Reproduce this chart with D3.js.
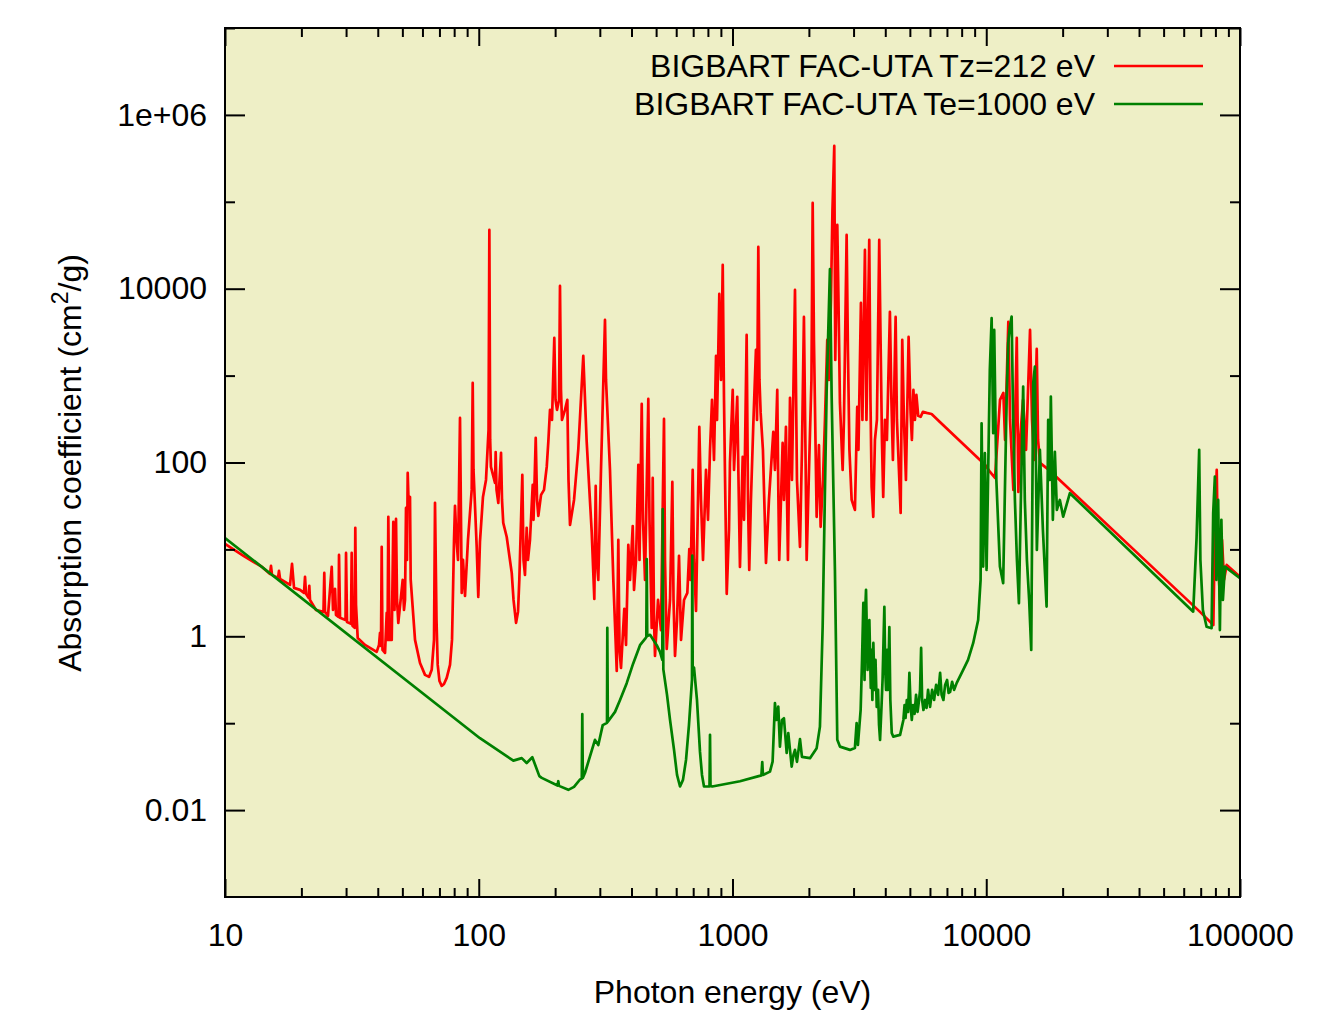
<!DOCTYPE html>
<html>
<head>
<meta charset="utf-8">
<script src="https://cdn.jsdelivr.net/npm/d3@7"></script>
<style>
  body { margin: 0; background: #ffffff; }
  svg { display: block; font-family: "Liberation Sans", Arial, sans-serif; }
  .tick text { font-size: 32px; fill: #000; }
</style>
</head>
<body>
<svg id="chart" width="1338" height="1027"></svg>
<script>
// absorption spectrum, Tz=212 eV (red)
const redEnergy = [10, 12.0, 14.0, 15.04, 15.18, 15.32, 16.18, 16.32, 16.48, 18.04, 18.37, 18.71, 19.75, 20.48, 20.67, 20.86,
  21.34, 21.49, 21.63, 22.84, 24.44, 24.62, 24.78, 25.46, 26.34, 26.65, 27.14, 27.38, 28.01, 28.14, 28.40, 29.85, 29.99,
  30.26, 31.37, 31.57, 31.80, 32.44, 32.62, 32.83, 33.34, 35.62, 39.61, 40.45, 40.82, 41.19, 41.45, 41.76, 42.72, 43.38,
  43.70, 44.02, 44.50, 45.40, 46.06, 46.56, 47.20, 47.63, 48.19, 50.15, 50.75, 51.22, 51.68, 52.15, 52.48, 52.87, 53.59,
  53.93, 56.09, 58.69, 61.41, 63.68, 65.26, 66.64, 67.24, 68.16, 68.9, 70.03, 71.45, 72.95, 74.77, 77.04, 78.45, 79.2, 79.9, 80.61, 81.72, 82.84, 84.36,
  85.68, 86.69, 88.28, 90.70, 93.80, 94.66, 95.35, 98.15, 99.59, 101.1, 103.9, 106.8, 109.3, 110.1, 110.9, 111.7, 115.9,
  116.6, 117.5, 119.4, 122.4, 123.5, 124.9, 128.9, 134.9, 137.1, 140.3, 142.8, 144.5, 148.5, 150.1, 152.1, 154.5, 156.3, 159.2, 163.2,
  164.4, 167.7, 169.7, 171.7, 176.0, 180.8, 185.3, 188.0, 190.9, 194.4, 198.5, 200.7, 203.4, 207.2, 209.0, 210.9, 212.8,
  218.7, 223.4, 225.8, 228.9, 237.4, 246.8, 258.2, 266.3, 278.7, 285.4, 289.0, 291.6, 295.9, 303.2, 314.4, 317.3, 329.0,
  339.1, 349.8, 354.8, 358.7, 363.6, 374.6, 380.5, 388.5, 394.6, 404.4, 409.2, 416.7, 425.5, 430.1, 438.8, 444.0, 452.1,
  465.8, 470.9, 480.4, 484.8, 490.6, 495.0, 508.7, 522.6, 537.1, 542.0, 550.5, 567.3, 579.3, 585.6, 593.6, 604.5, 615.5,
  626.8, 644.1, 663.7, 675.8, 683.3, 696.9, 705.2, 718.1, 739.9, 751.4, 765.2, 786.3, 800.7, 815.4, 830.3, 845.5, 861.1,
  869.0, 887.2, 901.1, 915.1, 925.9, 934.4, 948.9, 968.9, 977.2, 1002, 1014, 1044, 1056, 1070, 1097, 1110, 1137, 1151,
  1164, 1182, 1207, 1237, 1249, 1264, 1277, 1291, 1318, 1355, 1392, 1448, 1470, 1501, 1517, 1528, 1576, 1595, 1624, 1654,
  1685, 1715, 1763, 1795, 1845, 1878, 1912, 1939, 1960, 2020, 2047, 2070, 2094, 2146, 2191, 2225, 2273, 2314, 2363, 2399,
  2443, 2477, 2518, 2541, 2588, 2616, 2651, 2717, 2749, 2817, 2850, 2889, 2948, 3037, 3101, 3136, 3207, 3251, 3326, 3372,
  3459, 3497, 3535, 3587, 3642, 3708, 3787, 3828, 3881, 3926, 3987, 4060, 4172, 4229, 4287, 4394, 4446, 4528, 4599, 4666,
  4738, 4825, 4943, 5034, 5093, 5163, 5234, 5305, 5393, 5512, 5627, 5820, 6090, 6567, 9725, 9980, 10350, 10830, 11330,
  11680, 11860, 12220, 12410, 12790, 12990, 13190, 13380, 13590, 13960, 14350, 14880, 15150, 15430, 15810, 16000, 16290,
  17840, 69560, 78510, 79730, 80970, 81920, 83420, 84940, 86490, 88650, 100000];
const redValue = [11.6, 8.20, 6.29, 5.22, 6.46, 5.09, 4.70, 5.66, 4.58, 3.90, 6.81, 3.61, 3.42, 3.16, 4.83, 3.08,
  2.77, 3.80, 2.62, 2.01, 1.91, 5.36, 1.91, 1.72, 6.29, 2.01, 3.51, 1.76, 1.67, 8.64, 1.63, 1.54, 9.11,
  1.46, 1.39, 9.11, 1.32, 1.25, 17.7, 2.30, 0.958, 0.796, 0.661, 0.796, 1.094, 0.775, 10.7, 0.698, 0.644, 1.86,
  0.909, 23.7, 0.909, 0.909, 20.7, 2.01, 22.4, 2.62, 1.43, 4.46, 2.01, 2.62, 30.0, 7.57, 75.9, 37.1, 40.2,
  4.46, 0.909, 0.494, 0.360, 0.341, 0.411, 0.909, 34.3, 1.54, 0.469, 0.306, 0.269, 0.283, 0.332, 0.469, 0.909, 3.42, 12.9, 31.7, 12.9, 7.57, 326,
  3.16, 7.57, 2.92, 12.9, 48.4, 824, 82.2, 10.7, 2.84, 12.2, 40.2, 63.0, 237, 47500, 182, 89.0, 58.2,
  132, 48.4, 34.3, 129, 37.1, 20.2, 13.9, 5.36, 2.62, 1.43, 1.91, 4.46, 72.0, 7.57, 5.09, 17.7, 7.57, 12.9, 55.2,
  21.9, 192, 37.1, 24.3, 42.4, 48.4, 89.0, 173, 403, 309, 2715, 525, 403, 525, 10770, 684, 309,
  403, 525, 63.0, 19.1, 37.1, 143, 1685, 173, 15.9, 2.69, 53.8, 7.57, 4.46, 82.2, 4373, 892, 82.2,
  4.46, 0.400, 12.9, 0.698, 0.433, 2.07, 0.796, 11.3, 4.46, 18.6, 3.42, 7.57, 93.8, 7.57, 472, 21.9, 4.46,
  539, 21.9, 1.25, 66.5, 1.54, 0.595, 2.62, 1.18, 317, 7.57, 0.716, 2.62, 59.8, 2.62, 0.595, 1.54, 8.42,
  0.909, 2.62, 3.16, 10.1, 4.46, 82.2, 7.57, 1.96, 257, 37.1, 7.57, 82.2, 21.9, 140, 525, 107, 1685,
  309, 8710, 892, 18780, 525, 68.3, 3.08, 16.8, 98.9, 684, 82.2, 569, 63.0, 6.29, 116, 21.9, 2939, 37.1,
  5.81, 37.1, 257, 1975, 309, 30250, 892, 372, 140, 6.99, 37.1, 225, 82.2, 684, 37.1, 7.57, 168, 37.1, 257, 7.57,
  554, 63.0, 9683, 63.0, 10.7, 140, 4735, 140, 7.57, 219, 892, 97070, 2575, 23.7, 159, 18.2, 63.0, 309, 2575, 892,
  7430, 80650, 439500, 1515, 54200, 7430, 485, 82.2, 309, 41570, 1975, 140, 37.1, 28.5, 436, 140, 6862, 309, 27940, 309,
  36420, 525, 52.4, 23.7, 182, 309, 36420, 3355, 182, 40.2, 309, 182, 5407, 525, 107, 4735, 309, 82.2, 26.3, 2575,
  309, 63.0, 2787, 372, 182, 684, 309, 599, 344, 335, 382, 372, 362, 293, 98.9, 91.4, 77.9, 66.5, 525,
  632, 182, 4148, 309, 48.4, 309, 2715, 45.9, 182, 525, 140, 3355, 309, 107, 2028, 182, 98.9,
  80.0, 1.91, 1.35, 21.9, 82.2, 7.57, 2.62, 12.9, 4.46, 6.63, 4.83];

// absorption spectrum, Te=1000 eV (green)
const greenEnergy = [10, 101.1, 136.9, 147.7, 154.5, 162.6, 173.3, 177.1, 204.4, 205.8, 207.2, 225.4, 237.4, 250.6, 254.7, 255.9,
  257.1, 262.3, 287.1, 295.9, 308.0, 320.2, 321.1, 322.6, 344.4, 360.4, 382.9, 405.5, 432.0, 452.1, 457.5, 459.2,
  461.3, 473.2, 502.8, 518.0, 529.0, 530.9, 533.9, 552.0, 567.3, 588.3, 604.5, 621.2, 638.0, 655.9, 673.6, 692.4,
  694.3, 696.9, 705.2, 724.4, 744.6, 758.2, 772.1, 811.7, 815.4, 819.0, 832.5, 1070, 1300, 1310, 1318, 1405,
  1439, 1470, 1490, 1515, 1538, 1566, 1595, 1635, 1659, 1711, 1739, 1763, 1795, 1845, 1878, 2020,
  2146, 2211, 2266, 2350, 2421, 2459, 2533, 2588, 2651, 2903, 3037, 3084, 3121, 3199, 3240, 3278,
  3314, 3335, 3359, 3406, 3434, 3462, 3507, 3532, 3558, 3590, 3628, 3661, 3702, 3746, 3780, 3815,
  3868, 3903, 3938, 3967, 3999, 4028, 4065, 4102, 4151, 4188, 4242, 4299, 4575, 4659, 4715, 4765,
  4808, 4863, 4920, 4979, 5032, 5088, 5149, 5218, 5289, 5362, 5435, 5485, 5538, 5588, 5655, 5743,
  5819, 5898, 6007, 6118, 6229, 6345, 6461, 6579, 6670, 6779, 6885, 7009, 7105, 7203, 7337, 7472,
  7651, 8111, 8477, 8880, 9293, 9500, 9542, 9586, 9725, 9876, 10030, 10330, 10500, 10650, 10750, 10960,
  11320, 11660, 12030, 12200, 12390, 12590, 12730, 12970, 13210, 13450, 13690, 13980, 14190, 14460, 14760, 15040,
  15310, 15550, 15830, 16270, 16720, 17290, 17540, 17810, 17970, 18300, 18640, 18980, 19500, 20100, 21360, 65400,
  67430, 69050, 69800, 71400, 73840, 77270, 78400, 79620, 80710, 82040, 83320, 84460, 85620, 87190, 100000];
const greenValue = [13.5, 0.0672, 0.0371, 0.0396, 0.0348, 0.0406, 0.0246, 0.0235, 0.0192, 0.0215, 0.0190, 0.0171, 0.0185, 0.0225, 0.0229, 0.127,
  0.0235, 0.0269, 0.0643, 0.0560, 0.0951, 0.101, 1.25, 0.104, 0.135, 0.185, 0.289, 0.481, 0.790, 0.933, 0.984, 7.71,
  1.01, 1.04, 0.790, 0.661, 0.535, 29.0, 0.416, 0.212, 0.109, 0.0493, 0.0254, 0.0187, 0.0223, 0.0378, 0.0953, 0.315,
  8.46, 0.389, 0.436, 0.185, 0.0467, 0.0254, 0.0187, 0.0187, 0.0736, 0.0190, 0.0187, 0.0215, 0.0251, 0.0356, 0.0254, 0.0277,
  0.0362, 0.170, 0.109, 0.155, 0.0538, 0.109, 0.114, 0.0455, 0.0767, 0.0317, 0.0432, 0.0493, 0.0359, 0.0655, 0.0410, 0.0396,
  0.0516, 0.0914, 1.29, 684, 16760, 573, 5.81, 0.0643, 0.0538, 0.0493, 0.0520, 0.100, 0.0563, 0.142, 0.535, 2.42,
  0.315, 2.01, 3.42, 0.411, 0.909, 1.54, 0.255, 0.698, 0.185, 0.839, 0.242, 0.535, 0.154, 0.242, 0.0956, 0.0643,
  0.162, 0.315, 0.909, 2.18, 0.411, 0.242, 0.698, 0.242, 1.28, 0.185, 0.0773, 0.0701, 0.0733, 0.0931, 0.109, 0.162,
  0.115, 0.185, 0.135, 0.379, 0.162, 0.109, 0.162, 0.128, 0.212, 0.135, 0.185, 0.242, 0.735, 0.185, 0.142, 0.185,
  0.150, 0.242, 0.154, 0.242, 0.185, 0.276, 0.212, 0.379, 0.212, 0.185, 0.276, 0.315, 0.223, 0.229, 0.299, 0.242,
  0.291, 0.411, 0.535, 0.833, 1.54, 4.46, 37.1, 283, 6.34, 128, 5.81, 1163, 4575, 217, 3355, 63.0,
  6.34, 4.08, 525, 2359, 3661, 4774, 525, 37.1, 7.57, 2.40, 37.1, 747, 37.1, 7.57, 2.62, 0.698,
  817, 1269, 9.87, 140, 16.8, 2.20, 309, 63.0, 573, 21.9, 133, 28.5, 37.1, 23.8, 44.3, 1.92,
  13.5, 140, 7.57, 2.01, 1.29, 1.24, 26.1, 68.8, 4.46, 37.1, 1.18, 21.9, 2.62, 6.34, 4.66];

// axis ticks and labels
const xMajor = [10, 100, 1000, 10000, 100000];
const yMajor = [0.01, 1, 100, 10000, 1e6];
const yMinor = [0.1, 10, 1000, 1e5, 1e7];
const yLabels = ['0.01', '1', '100', '10000', '1e+06'];
const seriesNames = ['BIGBART FAC-UTA Tz=212 eV', 'BIGBART FAC-UTA Te=1000 eV'];
const seriesColors = ['#ff0000', '#008000'];

const svg = d3.select('#chart');
const plotLeft = 225, plotRight = 1240, plotTop = 28, plotBottom = 897;

const xScale = d3.scaleLog().domain([10, 1e5]).range([plotLeft, plotRight]);
const yScale = d3.scaleLog().domain([1e-3, 1e7]).range([plotBottom, plotTop]);

// minor x ticks 2..9 in every decade
const xMinor = [];
for (let d = 10; d < 1e5; d *= 10) {
  for (let k = 2; k <= 9; k++) xMinor.push(d * k);
}

// plot background
svg.append('rect')
  .attr('x', plotLeft).attr('y', plotTop)
  .attr('width', plotRight - plotLeft).attr('height', plotBottom - plotTop)
  .attr('fill', '#eeefc6');

svg.append('clipPath').attr('id', 'plotClip')
  .append('rect')
  .attr('x', plotLeft).attr('y', plotTop)
  .attr('width', plotRight - plotLeft).attr('height', plotBottom - plotTop);

// data lines
const line = d3.line()
  .x(d => xScale(d[0]))
  .y(d => yScale(d[1]));

const series = [d3.zip(redEnergy, redValue), d3.zip(greenEnergy, greenValue)];
series.forEach((s, i) => {
  svg.append('path')
    .attr('clip-path', 'url(#plotClip)')
    .attr('d', line(s))
    .attr('fill', 'none')
    .attr('stroke', seriesColors[i])
    .attr('stroke-width', 2.7)
    .attr('stroke-linejoin', 'round');
});

// axes: ticks point inward on all four sides
function styleAxis(g) {
  g.select('.domain').remove();
  g.selectAll('.tick line').attr('stroke', '#000').attr('stroke-width', 2);
}

svg.append('g')
  .attr('transform', `translate(0,${plotBottom})`)
  .call(d3.axisBottom(xScale).tickValues(xMajor).tickSize(-18).tickPadding(26).tickFormat(d3.format('d')))
  .call(styleAxis);
svg.append('g')
  .attr('transform', `translate(0,${plotBottom})`)
  .call(d3.axisBottom(xScale).tickValues(xMinor).tickSize(-9).tickFormat(''))
  .call(styleAxis);
svg.append('g')
  .attr('transform', `translate(0,${plotTop})`)
  .call(d3.axisTop(xScale).tickValues(xMajor).tickSize(-18).tickFormat(''))
  .call(styleAxis);
svg.append('g')
  .attr('transform', `translate(0,${plotTop})`)
  .call(d3.axisTop(xScale).tickValues(xMinor).tickSize(-9).tickFormat(''))
  .call(styleAxis);

svg.append('g')
  .attr('transform', `translate(${plotLeft},0)`)
  .call(d3.axisLeft(yScale).tickValues(yMajor).tickSize(-20).tickPadding(18)
    .tickFormat((d, i) => yLabels[i]))
  .call(styleAxis);
svg.append('g')
  .attr('transform', `translate(${plotLeft},0)`)
  .call(d3.axisLeft(yScale).tickValues(yMinor).tickSize(-10).tickFormat(''))
  .call(styleAxis);
svg.append('g')
  .attr('transform', `translate(${plotRight},0)`)
  .call(d3.axisRight(yScale).tickValues(yMajor).tickSize(-20).tickFormat(''))
  .call(styleAxis);
svg.append('g')
  .attr('transform', `translate(${plotRight},0)`)
  .call(d3.axisRight(yScale).tickValues(yMinor).tickSize(-10).tickFormat(''))
  .call(styleAxis);

svg.selectAll('g').attr('font-family', null).attr('font-size', null);

// plot border
svg.append('rect')
  .attr('x', plotLeft).attr('y', plotTop)
  .attr('width', plotRight - plotLeft).attr('height', plotBottom - plotTop)
  .attr('fill', 'none')
  .attr('stroke', '#000')
  .attr('stroke-width', 2);

// legend
seriesNames.forEach((name, i) => {
  const y = 66 + i * 38;
  svg.append('text')
    .text(name)
    .attr('x', 1095)
    .attr('y', y + 11)
    .attr('text-anchor', 'end')
    .attr('font-size', 32);
  svg.append('line')
    .attr('x1', 1114).attr('x2', 1203)
    .attr('y1', y).attr('y2', y)
    .attr('stroke', seriesColors[i])
    .attr('stroke-width', 2.7);
});

// axis titles
svg.append('text')
  .text('Photon energy (eV)')
  .attr('x', (plotLeft + plotRight) / 2)
  .attr('y', 1003)
  .attr('text-anchor', 'middle')
  .attr('font-size', 32);

const yTitle = svg.append('text')
  .attr('transform', 'translate(81,463) rotate(-90)')
  .attr('text-anchor', 'middle')
  .attr('font-size', 32);
yTitle.append('tspan').text('Absorption coefficient (cm');
yTitle.append('tspan').text('2').attr('font-size', 23).attr('dy', -13);
yTitle.append('tspan').text('/g)').attr('dy', 13);
</script>
</body>
</html>
